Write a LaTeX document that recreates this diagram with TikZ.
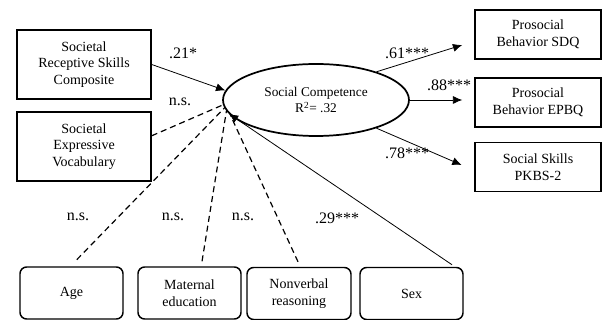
\documentclass[tikz,border=0pt]{standalone}
\usepackage{fontspec}
\setmainfont{Liberation Serif}
\usepackage{tikz}
\usetikzlibrary{shapes.geometric}
\usetikzlibrary{arrows.meta}
\tikzstyle{var}=[draw, line width=1.1pt, inner sep=1pt, align=center, font=\fontsize{10.5}{12.4}\selectfont]
\tikzstyle{inbox}=[var, minimum width=100.5pt, minimum height=51.75pt]
\tikzstyle{outbox}=[var, minimum width=94.5pt, minimum height=37pt]
\tikzstyle{covbox}=[var, rounded corners=5pt, minimum width=77.25pt, minimum height=39pt]
\tikzstyle{latent}=[draw, ellipse, line width=1.3pt, inner sep=0pt, align=center, minimum width=139.5pt, minimum height=54pt, font=\fontsize{10}{12.5}\selectfont]
\tikzstyle{coef}=[inner sep=0pt, font=\fontsize{12}{14}\selectfont]
\tikzstyle{path}=[line width=0.6pt, -{Latex[length=7pt, width=6pt]}]
\tikzstyle{nsline}=[line width=0.9pt, dash pattern=on 4.5pt off 3pt]

\begin{document}
\begin{tikzpicture}[x=0.75pt, y=-0.75pt]
        \useasboundingbox (0,0) rectangle (603,320);
        % predictors
        \node[inbox] (recept) at (84, 64.5) {Societal\\Receptive Skills\\Composite};
        \node[inbox] (express) at (84, 146.5) {Societal\\Expressive\\Vocabulary};
        % latent
        \node[latent] (comp) at (316, 100) {Social Competence\\R\textsuperscript{2}= .32};
        % outcomes
        \node[outbox] (sdq) at (538, 34.5) {Prosocial\\Behavior SDQ};
        \node[outbox] (epbq) at (538, 102.5) {Prosocial\\Behavior EPBQ};
        \node[outbox] (pkbs) at (538, 167) {Social Skills\\PKBS-2};
        % covariates
        \node[covbox] (age) at (71.5, 293) {Age};
        \node[covbox] (mated) at (189.5, 293) {Maternal\\education};
        \node[covbox, minimum width=78pt] (nonverb) at (299, 293.5) {Nonverbal\\reasoning};
        \node[covbox] (sex) at (411.5, 293.5) {Sex};
        % paths
        \draw[path] (recept.east) -- (comp.174);
        \draw[nsline] (express.9) -- (comp.183);
        \draw[nsline] ([xshift=4pt, yshift=5pt]age.north) -- (comp.185);
        \draw[nsline] ([xshift=9.4pt, yshift=3.75pt]mated.north) -- (comp.187.5);
        \draw[nsline] ([xshift=-0.75pt, yshift=3.75pt]nonverb.north) -- (comp.190);
        \draw[path] ([xshift=30.4pt, yshift=1.5pt]sex.north) -- (comp.189);
        \draw[path] (comp.25) -- ([xshift=-9pt]sdq.west |- 0, 45);
        \draw[path] (comp.east) -- ([xshift=-9pt]epbq.west |- comp.east);
        \draw[path] (comp.335) -- ([xshift=-9.5pt]pkbs.west |- 0, 165);
        % coefficients
        \node[coef] (c1) at (183, 53) {.21*};
        \node[coef] (c2) at (180, 102) {n.s.};
        \node[coef] (c3) at (407, 53) {.61***};
        \node[coef] (c4) at (449, 85) {.88***};
        \node[coef] (c5) at (407, 153) {.78***};
        \node[coef] (c6) at (78, 217) {n.s.};
        \node[coef] (c7) at (173, 217) {n.s.};
        \node[coef] (c8) at (243, 217) {n.s.};
        \node[coef] (c9) at (337, 218) {.29***};
    \end{tikzpicture}
\end{document}
